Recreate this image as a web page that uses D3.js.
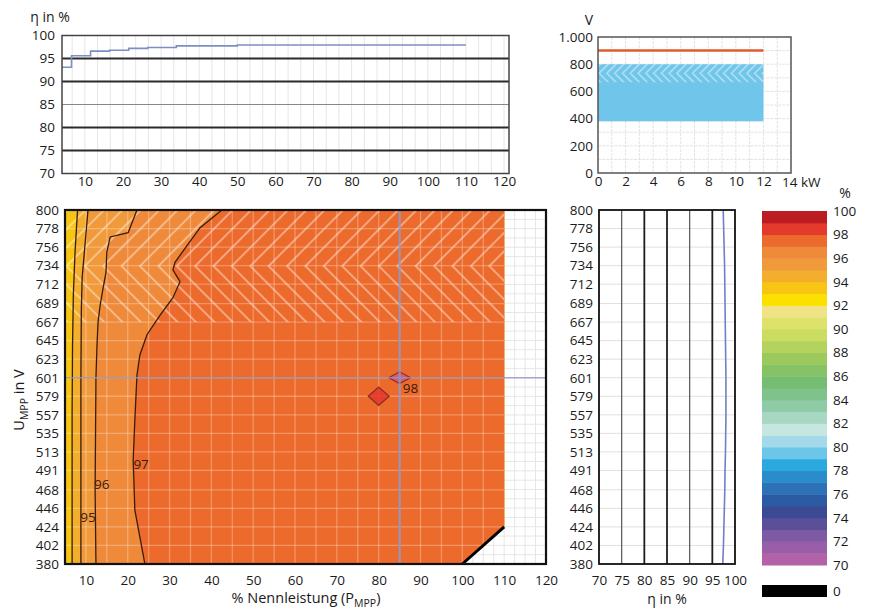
<!DOCTYPE html>
<html><head><meta charset="utf-8">
<script src="https://cdn.jsdelivr.net/npm/d3@7"></script>
<style>
body{margin:0;background:#fff;}
svg text{font-family:"Open Sans",sans-serif;fill:#1a1a1a;}
</style></head><body>
<svg id="c" width="869" height="611"></svg>
<script>
// ================= DATA =================
// top-left: efficiency vs % nominal power (step line)
const pctTicks = [10,20,30,40,50,60,70,80,90,100,110,120];
const etaTopTicks = [70,75,80,85,90,95,100];
const etaStepX = [4, 6.5, 11.5, 16.5, 21.5, 26.5, 34, 50, 110];
const etaStepY = [93.1, 95.6, 96.6, 96.8, 97.2, 97.4, 97.75, 97.95, 97.95];

// top-right: voltage window vs power
const kwTicks = [0,2,4,6,8,10,12];
const voltTicks = [0,200,400,600,800,1000];
const voltTickLabels = ["0","200","400","600","800","1.000"];
const maxInputVoltage = 900;
const maxPowerKw = 12;
const mppWindow = [380, 800];
const fullPowerFrom = 667;

// main map
const uTickLabels = ["380","402","424","446","468","491","513","535","557","579","601","623","645","667","689","712","734","756","778","800"];
const mapRegion = [[5,380],[100,380],[110,424],[110,800],[5,800]];
const cutEdge = [[100,380],[110,424]];
const contourLevels = [94, 95, 96, 97];
const contour94 = [[8.0,800],[7.4,750],[7.0,700],[6.8,640],[6.7,560],[6.7,380]];
const contour95 = [[10.5,800],[9.8,760],[9.1,720],[8.9,680],[8.8,600],[8.8,380]];
const contour96 = [[22.2,800],[20.1,773],[15.8,768],[15.0,750],[14.8,726],[14.1,707],[13.4,687],[12.9,667],[12.65,640],[12.4,601],[12.2,468],[12.4,380]];
const contour97 = [[42.5,800],[37.3,779],[34.2,758],[31.3,738],[30.8,729],[32.5,715],[30.8,696],[27.7,675],[24.6,652],[22.9,628],[22.2,604],[21.7,551],[21.3,503],[21.7,444],[24.1,380]];
const contourLabels = [
  {t:"95", x:10.5, y:435},
  {t:"96", x:13.8, y:474},
  {t:"97", x:23.2, y:498},
  {t:"98", x:87.6, y:588}
];
// small 98 % islands (centre, half width in %, half height in V)
const peakIslands = [
  {x:80, y:579, hw:2.5, hh:11, level:98},
  {x:85, y:601, hw:2.6, hh:7, level:98.6}
];
const markPct = 85, markVolt = 601;

// right: efficiency vs MPP voltage
const etaRightTicks = [70,75,80,85,90,95,100];
const etaByVoltage = [97.3,97.45,97.55,97.65,97.75,97.8,97.9,97.95,98.0,98.0,98.0,97.95,97.9,97.85,97.8,97.75,97.7,97.6,97.5,97.4]; // 380 -> 800

// colour scale 70..100 in 1 % steps
const cbLevels = [70,72,74,76,78,80,82,84,86,88,90,92,94,96,98,100];
const cbColors = ["#b462a8","#9a5ea8","#7e5aa4","#5c4f9a","#3b4a92","#2c5aa3","#2d72b6","#2b8ccb","#2aa9df","#6cc6ea",
                  "#a4d9ea","#c6e6e0","#a8d8c4","#8ecba6","#7fc28c","#75bd73","#86c266","#9cc95e","#b4d35e","#cbdc63",
                  "#dde26a","#efe386","#fbe000","#f7c614","#f3ae2e","#f09a3b","#ef8a3a","#ec6b2c","#e43a2c","#bb1d22"];

// ================= DRAW =================
const svg = d3.select("#c");
const defs = svg.append("defs");
const F = 13.5;

function hatch(id, angle, x0, y0, op, size, w){
  const p = defs.append("pattern").attr("id", id).attr("patternUnits","userSpaceOnUse")
    .attr("width", size).attr("height", size)
    .attr("patternTransform", `translate(${x0},${y0}) rotate(${angle})`);
  p.append("rect").attr("width",w).attr("height",size).attr("fill","#fff").attr("fill-opacity",op);
}
function colorOf(v){ return cbColors[Math.max(0, Math.min(29, Math.floor(v-70)))]; }
function styleAxis(g, size){
  g.select(".domain").remove();
  g.selectAll("text").attr("font-size", size||F).attr("fill","#1a1a1a").style("font-family","'Open Sans',sans-serif");
}

// ---------- top-left ----------
const xT = d3.scaleLinear().domain([4,121.3]).range([62,509]);
const yT = d3.scaleLinear().domain([70,100]).range([173.5,35.5]);
const gT = svg.append("g");
gT.selectAll(".vg").data(d3.range(2,37).map(k=>k*10/3)).join("line")
  .attr("x1",d=>xT(d)).attr("x2",d=>xT(d)).attr("y1",yT(100)).attr("y2",yT(70))
  .attr("stroke","#e6e6e6").attr("stroke-width",1);
gT.selectAll(".hg").data(etaTopTicks.filter(d=>d>70&&d<100)).join("line")
  .attr("x1",xT.range()[0]).attr("x2",xT.range()[1]).attr("y1",d=>yT(d)).attr("y2",d=>yT(d))
  .attr("stroke",d=>d===85?"#888":"#2b2b2b").attr("stroke-width",d=>d===85?1:1.8);
gT.append("path").datum(etaStepX.map((x,i)=>[x,etaStepY[i]]))
  .attr("d", d3.line().x(d=>xT(d[0])).y(d=>yT(d[1])).curve(d3.curveStepAfter))
  .attr("fill","none").attr("stroke","#7c8ec6").attr("stroke-width",1.6);
gT.append("rect").attr("x",xT.range()[0]).attr("y",yT(100)).attr("width",xT.range()[1]-xT.range()[0]).attr("height",yT(70)-yT(100))
  .attr("fill","none").attr("stroke","#444").attr("stroke-width",1.5);
gT.append("g").attr("transform",`translate(0,${yT(70)})`)
  .call(d3.axisBottom(xT).tickValues(pctTicks).tickSize(0).tickPadding(3)).call(styleAxis);
gT.append("g").attr("transform",`translate(${xT.range()[0]},0)`)
  .call(d3.axisLeft(yT).tickValues(etaTopTicks).tickSize(0).tickPadding(7)).call(styleAxis);
gT.append("text").attr("x",50).attr("y",22).attr("text-anchor","middle").attr("font-size",14).text("η in %");

// ---------- top-right ----------
const xK = d3.scaleLinear().domain([0,14]).range([598,791]);
const yV = d3.scaleLinear().domain([0,1000]).range([173,37]);
const gK = svg.append("g");
gK.selectAll(".vg").data(d3.range(1,14)).join("line")
  .attr("x1",d=>xK(d)).attr("x2",d=>xK(d)).attr("y1",yV(1000)).attr("y2",yV(0))
  .attr("stroke","#e4e4e4").attr("stroke-dasharray","3,1");
gK.selectAll(".hg").data(d3.range(100,1000,100)).join("line")
  .attr("x1",xK(0)).attr("x2",xK(14)).attr("y1",d=>yV(d)).attr("y2",d=>yV(d))
  .attr("stroke","#e4e4e4").attr("stroke-dasharray","3,1");
gK.append("rect").attr("x",xK(0)).attr("y",yV(mppWindow[1])).attr("width",xK(maxPowerKw)-xK(0))
  .attr("height",yV(mppWindow[0])-yV(mppWindow[1])).attr("fill","#6fc5ea");
const foldK = yV((fullPowerFrom+mppWindow[1])/2);
hatch("hkU",45,xK(0),foldK,0.45,5.5,1.6); hatch("hkD",-45,xK(0),foldK,0.45,5.5,1.6);
gK.append("rect").attr("x",xK(0)).attr("y",yV(mppWindow[1])).attr("width",xK(maxPowerKw)-xK(0))
  .attr("height",foldK-yV(mppWindow[1])).attr("fill","url(#hkU)");
gK.append("rect").attr("x",xK(0)).attr("y",foldK).attr("width",xK(maxPowerKw)-xK(0))
  .attr("height",yV(fullPowerFrom)-foldK).attr("fill","url(#hkD)");
gK.append("line").attr("x1",xK(0)).attr("x2",xK(maxPowerKw)).attr("y1",yV(maxInputVoltage)).attr("y2",yV(maxInputVoltage))
  .attr("stroke","#e05a30").attr("stroke-width",2.5);
gK.append("rect").attr("x",xK(0)).attr("y",yV(1000)).attr("width",xK(14)-xK(0)).attr("height",yV(0)-yV(1000))
  .attr("fill","none").attr("stroke","#555").attr("stroke-width",1.5);
gK.append("g").attr("transform",`translate(0,${yV(0)})`)
  .call(d3.axisBottom(xK).tickValues(kwTicks).tickSize(0).tickPadding(3)).call(styleAxis);
gK.append("text").attr("x",xK(14)-9).attr("y",yV(0)+14).attr("font-size",F).text("14 kW");
gK.append("g").attr("transform",`translate(${xK(0)},0)`)
  .call(d3.axisLeft(yV).tickValues(voltTicks).tickFormat((d,i)=>voltTickLabels[i]).tickSize(0).tickPadding(5)).call(styleAxis);
gK.append("text").attr("x",589).attr("y",25).attr("text-anchor","middle").attr("font-size",14).text("V");

// ---------- main map ----------
const xM = d3.scaleLinear().domain([5,120]).range([65,546]);
const yM = d3.scaleLinear().domain([380,800]).range([564,210]);
const gM = svg.append("g");
const uTicks = uTickLabels.map(Number);
gM.selectAll(".vg").data(d3.range(7.5,120,2.5)).join("line")
  .attr("x1",d=>xM(d)).attr("x2",d=>xM(d)).attr("y1",yM(800)).attr("y2",yM(380))
  .attr("stroke","#e6e6e6");
gM.selectAll(".hg").data(d3.range(380+420/38,800,420/38)).join("line")
  .attr("x1",xM(5)).attr("x2",xM(120)).attr("y1",d=>yM(d)).attr("y2",d=>yM(d))
  .attr("stroke","#e6e6e6");
defs.append("clipPath").attr("id","mapClip").append("path")
  .attr("d", d3.line().x(d=>xM(d[0])).y(d=>yM(d[1]))(mapRegion)+"Z");
const gMap = gM.append("g").attr("clip-path","url(#mapClip)");
gMap.append("rect").attr("x",xM(5)).attr("y",yM(800)).attr("width",xM(120)-xM(5)).attr("height",yM(380)-yM(800))
  .attr("fill",colorOf(contourLevels[0]-0.5));
const contours = [contour94, contour95, contour96, contour97];
const lineM = d3.line().x(d=>xM(d[0])).y(d=>yM(d[1]));
contours.forEach((c,i)=>{
  const poly = c.concat([[120,380],[120,800]]);
  gMap.append("path").attr("d", lineM(poly)+"Z").attr("fill", colorOf(contourLevels[i]+0.5));
});
const foldM = yM((fullPowerFrom+800)/2);
hatch("hmU",45,xM(5),foldM,0.4,13,2); hatch("hmD",-45,xM(5),foldM,0.4,13,2);
gMap.append("rect").attr("x",xM(5)).attr("y",yM(800)).attr("width",xM(110)-xM(5)).attr("height",foldM-yM(800)).attr("fill","url(#hmU)");
gMap.append("rect").attr("x",xM(5)).attr("y",foldM).attr("width",xM(110)-xM(5)).attr("height",yM(fullPowerFrom)-foldM).attr("fill","url(#hmD)");
gMap.selectAll(".wv").data(d3.range(10,110,5)).join("line")
  .attr("x1",d=>xM(d)).attr("x2",d=>xM(d)).attr("y1",yM(800)).attr("y2",yM(380))
  .attr("stroke","#fff").attr("stroke-opacity",0.28).attr("stroke-width",1.3);
gMap.selectAll(".wh").data(uTicks.slice(1,-1)).join("line")
  .attr("x1",xM(5)).attr("x2",xM(110)).attr("y1",d=>yM(d)).attr("y2",d=>yM(d))
  .attr("stroke","#fff").attr("stroke-opacity",0.28).attr("stroke-width",1.3);
contours.forEach(c=>{
  gMap.append("path").attr("d", lineM(c)).attr("fill","none").attr("stroke","#3b1c0c").attr("stroke-width",1.3);
});
peakIslands.forEach(p=>{
  const pts = [[p.x-p.hw,p.y],[p.x,p.y+p.hh],[p.x+p.hw,p.y],[p.x,p.y-p.hh]];
  gMap.append("path").attr("d", lineM(pts)+"Z")
    .attr("fill", p.level>98.5 ? "#cf5c78" : colorOf(p.level+0.5)).attr("fill-opacity",0.9)
    .attr("stroke","#8a2c22").attr("stroke-width",1.2);
});
gM.append("line").attr("x1",xM(5)).attr("x2",xM(120)).attr("y1",yM(markVolt)).attr("y2",yM(markVolt))
  .attr("stroke","#8f93c0").attr("stroke-opacity",0.8).attr("stroke-width",1.6);
gM.append("line").attr("x1",xM(markPct)).attr("x2",xM(markPct)).attr("y1",yM(800)).attr("y2",yM(380))
  .attr("stroke","#8f93c0").attr("stroke-opacity",0.8).attr("stroke-width",2.4);
gM.selectAll(".cl").data(contourLabels).join("text")
  .attr("x",d=>xM(d.x)).attr("y",d=>yM(d.y)).attr("text-anchor","middle").attr("dy","0.35em")
  .attr("font-size",13.5).style("fill","#3b1c0c").text(d=>d.t);
gM.append("path").attr("d", lineM(cutEdge)).attr("stroke","#000").attr("stroke-width",3);
gM.append("rect").attr("x",xM(5)).attr("y",yM(800)).attr("width",xM(120)-xM(5)).attr("height",yM(380)-yM(800))
  .attr("fill","none").attr("stroke","#111").attr("stroke-width",2.2);
gM.append("g").attr("transform",`translate(0,${yM(380)})`)
  .call(d3.axisBottom(xM).tickValues(pctTicks).tickSize(0).tickPadding(11)).call(styleAxis);
gM.append("g").attr("transform",`translate(${xM(5)},0)`)
  .call(d3.axisLeft(yM).tickValues(uTicks).tickFormat((d,i)=>uTickLabels[i]).tickSize(0).tickPadding(6)).call(styleAxis);
const ylab = gM.append("text").attr("transform","translate(24,400) rotate(-90)").attr("text-anchor","middle").attr("font-size",14.5);
ylab.append("tspan").text("U");
ylab.append("tspan").attr("font-size",10.5).attr("dy",4).text("MPP");
ylab.append("tspan").attr("dy",-4).text(" in V");
const xlab = gM.append("text").attr("x",306).attr("y",603).attr("text-anchor","middle").attr("font-size",14.5);
xlab.append("tspan").text("% Nennleistung (P");
xlab.append("tspan").attr("font-size",10.5).attr("dy",4).text("MPP");
xlab.append("tspan").attr("dy",-4).text(")");

// ---------- right: eta vs U ----------
const xR = d3.scaleLinear().domain([70,100]).range([599,735]);
const gR = svg.append("g");
gR.selectAll(".hg").data(uTicks.slice(1,-1)).join("line")
  .attr("x1",xR(70)).attr("x2",xR(100)).attr("y1",d=>yM(d)).attr("y2",d=>yM(d)).attr("stroke","#e0e0e0");
gR.selectAll(".vg").data(etaRightTicks.slice(1,-1)).join("line")
  .attr("x1",d=>xR(d)).attr("x2",d=>xR(d)).attr("y1",yM(800)).attr("y2",yM(380))
  .attr("stroke",d=>(d===75||d===90)?"#555":"#1e1e1e").attr("stroke-width",d=>(d===75||d===90)?1.2:1.8);
gR.append("path").datum(uTicks.map((u,i)=>[etaByVoltage[i],u]))
  .attr("d", d3.line().x(d=>xR(d[0])).y(d=>yM(d[1])).curve(d3.curveMonotoneY))
  .attr("fill","none").attr("stroke","#6f80c4").attr("stroke-width",1.6);
gR.append("rect").attr("x",xR(70)).attr("y",yM(800)).attr("width",xR(100)-xR(70)).attr("height",yM(380)-yM(800))
  .attr("fill","none").attr("stroke","#111").attr("stroke-width",1.8);
gR.append("g").attr("transform",`translate(0,${yM(380)})`)
  .call(d3.axisBottom(xR).tickValues(etaRightTicks).tickSize(0).tickPadding(11)).call(styleAxis);
gR.append("g").attr("transform",`translate(${xR(70)},0)`)
  .call(d3.axisLeft(yM).tickValues(uTicks).tickFormat((d,i)=>uTickLabels[i]).tickSize(0).tickPadding(6)).call(styleAxis);
gR.append("text").attr("x",667).attr("y",604).attr("text-anchor","middle").attr("font-size",14).text("η in %");

// ---------- colour bar ----------
const yC = d3.scaleLinear().domain([70,100]).range([565,211]);
const gC = svg.append("g");
gC.selectAll("rect").data(cbColors).join("rect")
  .attr("x",762).attr("width",65).attr("y",(d,i)=>yC(71+i)).attr("height",(d,i)=>yC(70+i)-yC(71+i)+0.5).attr("fill",d=>d);
gC.append("g").attr("transform","translate(827,0)")
  .call(d3.axisRight(yC).tickValues(cbLevels).tickSize(0).tickPadding(6)).call(styleAxis);
gC.append("text").attr("x",845).attr("y",198).attr("text-anchor","middle").attr("font-size",14).text("%");
gC.append("rect").attr("x",762).attr("width",65).attr("y",585).attr("height",12).attr("fill","#000");
gC.append("text").attr("x",833).attr("y",591).attr("dy","0.35em").attr("font-size",F).text("0");
</script>
</body></html>
